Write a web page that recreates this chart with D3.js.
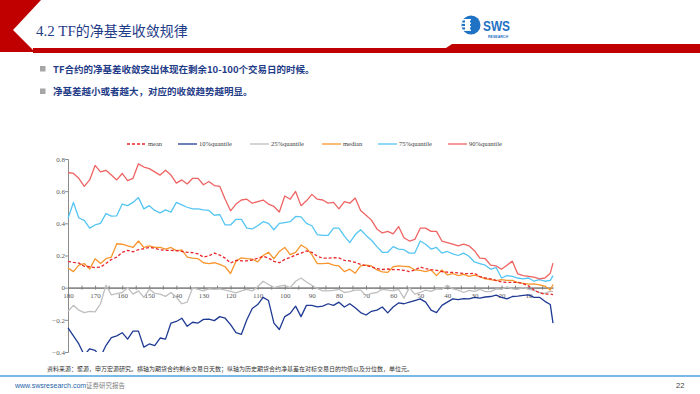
<!DOCTYPE html>
<html lang="zh">
<head>
<meta charset="utf-8">
<title>4.2 TF的净基差收敛规律</title>
<style>
  body { margin: 0; background: #fff; }
  svg text { font-family: "Liberation Serif", "Noto Sans CJK SC", serif; }
  svg text.cjk, svg tspan.cjk { font-family: "Noto Sans CJK SC", "Liberation Sans", sans-serif; }
  svg text.sans { font-family: "Liberation Sans", Arial, sans-serif; }
</style>
</head>
<body>
<script src="https://cdn.jsdelivr.net/npm/d3@7/dist/d3.min.js"></script>
<script>
// remaining trading days (x categories), every 2 days plus the last day
const days = d3.range(180, 0, -2).concat([1]);

const seriesNames = ["mean", "10%quantile", "25%quantile", "median", "75%quantile", "90%quantile"];

const q90 = [.716,.71,.68,.63,.67,.76,.72,.73,.70,.67,
  .71,.665,.68,.77,.75,.74,.72,.70,.73,.70,
  .65,.67,.645,.68,.68,.64,.66,.635,.63,.55,
  .478,.52,.545,.55,.525,.535,.545,.52,.505,.47,
  .57,.55,.598,.51,.54,.58,.55,.545,.526,.53,
  .49,.535,.525,.557,.48,.45,.42,.365,.34,.35,
  .335,.38,.31,.29,.30,.37,.37,.35,.35,.29,
  .28,.27,.26,.27,.26,.23,.184,.18,.14,.135,
  .115,.14,.165,.085,.075,.07,.065,.055,.06,.09,
  .153];

const q75 = [.43,.53,.433,.418,.37,.39,.40,.46,.445,.447,
  .52,.51,.53,.56,.49,.51,.48,.465,.484,.47,
  .53,.515,.50,.49,.49,.484,.48,.45,.455,.39,
  .39,.425,.425,.37,.365,.385,.41,.40,.36,.40,
  .405,.41,.443,.44,.40,.385,.33,.325,.325,.37,
  .37,.32,.28,.33,.36,.325,.295,.255,.22,.22,
  .255,.24,.236,.215,.215,.29,.27,.24,.25,.215,
  .225,.21,.20,.215,.195,.16,.15,.14,.115,.125,
  .06,.075,.07,.06,.055,.06,.04,.05,.04,.045,
  .075];

const median = [.122,.10,.14,.15,.115,.18,.15,.18,.19,.273,
  .27,.26,.25,.29,.25,.26,.25,.25,.24,.25,
  .23,.235,.19,.184,.18,.155,.15,.155,.145,.13,
  .088,.165,.185,.18,.178,.16,.20,.22,.18,.225,
  .25,.205,.22,.265,.245,.205,.15,.15,.152,.14,
  .135,.10,.115,.09,.135,.14,.135,.11,.098,.095,
  .13,.135,.133,.13,.11,.108,.10,.11,.075,.11,
  .08,.088,.075,.082,.07,.078,.068,.055,.05,.044,
  .05,.045,.045,.032,.027,.022,.024,.018,.01,-.015,
  .02];

const mean = [.164,.157,.153,.133,.13,.125,.128,.15,.175,.19,
  .22,.232,.223,.236,.242,.25,.245,.236,.232,.232,
  .23,.225,.22,.218,.21,.19,.198,.215,.203,.184,
  .153,.17,.167,.167,.172,.183,.195,.184,.164,.155,
  .176,.188,.203,.215,.228,.22,.195,.184,.184,.186,
  .185,.17,.166,.157,.145,.137,.13,.118,.113,.116,
  .112,.112,.108,.10,.11,.128,.118,.112,.108,.10,
  .096,.095,.092,.088,.087,.09,.068,.06,.055,.045,
  .036,.033,.033,.033,.025,.01,-.015,-.032,-.04,-.04,
  -.043];

const q25 = [-.147,-.11,-.14,-.155,-.147,-.15,-.10,.015,-.045,-.037,
  -.03,0,-.04,-.02,-.06,-.01,-.035,-.04,-.054,-.03,
  -.06,-.1,-.09,0,-.01,-.02,-.008,-.01,-.008,-.015,
  -.023,-.033,-.02,-.01,-.02,.005,.04,.02,0,.01,
  .015,0,.04,.06,.035,.015,-.005,-.02,-.02,-.017,
  -.01,-.03,-.025,-.015,-.015,-.05,-.035,-.03,-.01,-.015,
  -.02,-.01,-.065,0,-.04,-.03,-.015,-.023,-.008,-.01,
  .015,-.008,-.015,-.03,-.017,-.023,-.01,-.025,-.025,-.008,
  -.01,.005,-.008,-.01,0,-.01,-.017,-.03,-.035,-.023,
  -.023];

const q10 = [-.25,-.30,-.35,-.42,-.38,-.39,-.43,-.36,-.31,-.30,
  -.28,-.32,-.27,-.27,-.37,-.35,-.36,-.313,-.32,-.22,
  -.21,-.19,-.24,-.215,-.22,-.197,-.195,-.205,-.18,-.19,
  -.23,-.28,-.29,-.20,-.13,-.105,-.06,-.08,-.22,-.26,
  -.18,-.16,-.115,-.18,-.11,-.11,-.12,-.115,-.10,-.11,
  -.09,-.12,-.10,-.125,-.155,-.17,-.147,-.14,-.12,-.157,
  -.12,-.095,-.1,-.09,-.08,-.07,-.09,-.14,-.155,-.11,
  -.09,-.07,-.075,-.068,-.07,-.06,-.065,-.058,-.055,-.047,
  -.06,-.07,-.055,-.052,-.048,-.045,-.06,-.06,-.085,-.105,
  -.22];

const yTicks = [-0.4, -0.2, 0, 0.2, 0.4, 0.6, 0.8];
const xTicks = d3.range(180, 0, -5);

const W = 700, H = 394;
const svg = d3.select("body").append("svg").attr("width", W).attr("height", H);

// ---- slide header ----
svg.append("polygon")
  .attr("points", "0,0 41,0 13,30 35,52 0,52")
  .attr("fill", "#C00000");
svg.append("polygon")
  .attr("points", "33,48 446,48 452,44 700,44 700,53 33,53")
  .attr("fill", "#C00000");

const title = svg.append("text").attr("x", 36).attr("y", 36)
  .attr("fill", "#1F3C88").attr("font-size", 15);
title.append("tspan").text("4.2 TF");
title.append("tspan").attr("class", "cjk").attr("font-size", 14).text("的净基差收敛规律");

// logo
const logo = svg.append("g").attr("fill", "#1F72C4");
logo.append("circle").attr("cx", 471).attr("cy", 25).attr("r", 9.5);
[19, 22.5, 26, 29.5].forEach(yy => {
  logo.append("rect").attr("x", 462).attr("y", yy).attr("width", 9).attr("height", 1.4).attr("fill", "#fff");
});
logo.append("rect").attr("x", 465).attr("y", 20).attr("width", 5).attr("height", 10).attr("fill", "#fff");
logo.append("text").attr("class", "sans").attr("x", 483).attr("y", 31)
  .attr("font-weight", "bold").attr("font-size", 15)
  .attr("textLength", 27).attr("lengthAdjust", "spacingAndGlyphs").text("SWS");
logo.append("text").attr("class", "sans").attr("x", 488).attr("y", 38)
  .attr("font-weight", "bold").attr("font-size", 3.6)
  .attr("textLength", 20).attr("lengthAdjust", "spacingAndGlyphs").text("RESEARCH");

// bullets
const bullets = ["TF合约的净基差收敛突出体现在剩余10-100个交易日的时候。", "净基差越小或者越大，对应的收敛趋势越明显。"];
bullets.forEach((t, i) => {
  const yy = 69 + i * 22.5;
  svg.append("rect").attr("x", 40).attr("y", yy - 3).attr("width", 5.5).attr("height", 5.5).attr("fill", "#A6A6A6");
  svg.append("text").attr("class", "cjk").attr("x", 53).attr("y", yy + 3.5)
    .attr("font-size", 9.5).attr("font-weight", "bold").attr("fill", "#1F3C88").text(t);
});

// ---- chart ----
const x = d3.scaleLinear().domain([180, 1]).range([68, 553]);
const y = d3.scaleLinear().domain([-0.4, 0.8]).range([352, 159]);

svg.append("defs").append("clipPath").attr("id", "plot")
  .append("rect").attr("x", 60).attr("y", 159).attr("width", 500).attr("height", 193);

// y axis
const yAxis = svg.append("g").attr("transform", "translate(68,0)")
  .call(d3.axisLeft(y).tickValues(yTicks).tickSize(3).tickFormat(d => d === 0 ? "0" : d3.format(".1f")(d)));
yAxis.select(".domain").attr("stroke", "#8C8C8C");
yAxis.selectAll(".tick line").attr("stroke", "#8C8C8C");
yAxis.selectAll(".tick text").attr("font-size", 7).attr("fill", "#595959")
  .style("font-family", "Liberation Serif, serif").attr("x", -3);

// x axis at zero
const xAxis = svg.append("g").attr("transform", `translate(0,${y(0)})`)
  .call(d3.axisBottom(x).tickValues(xTicks).tickSizeOuter(0)
    .tickFormat(d => d % 10 === 0 ? d : ""));
xAxis.select(".domain").attr("stroke", "#8C8C8C").attr("stroke-width", 1.6);
xAxis.selectAll(".tick line").attr("stroke", "#7F7F7F").attr("y1", -2).attr("y2", 2);
xAxis.selectAll(".tick text").attr("font-size", 7).attr("fill", "#595959")
  .style("font-family", "Liberation Serif, serif").attr("y", 5);

const series = [
  { name: "25%quantile", values: q25, color: "#BFBFBF", dash: null },
  { name: "10%quantile", values: q10, color: "#1F3A93", dash: null },
  { name: "median", values: median, color: "#F7962D", dash: null },
  { name: "75%quantile", values: q75, color: "#55C5F2", dash: null },
  { name: "90%quantile", values: q90, color: "#EF6363", dash: null },
  { name: "mean", values: mean, color: "#E8262B", dash: "3,2" }
];

const line = d3.line().x((d, i) => x(days[i])).y(d => y(d));
const plot = svg.append("g").attr("clip-path", "url(#plot)");
series.forEach(s => {
  plot.append("path").datum(s.values)
    .attr("d", line)
    .attr("fill", "none")
    .attr("stroke", s.color)
    .attr("stroke-width", 1.3)
    .attr("stroke-linejoin", "round")
    .attr("stroke-dasharray", s.dash);
});

// legend
const legendX = [127, 178, 250, 322, 378, 448];
const legend = svg.append("g");
seriesNames.forEach((n, i) => {
  const s = series.find(d => d.name === n);
  const g = legend.append("g").attr("transform", `translate(${legendX[i]},144)`);
  g.append("line").attr("x1", 0).attr("x2", 19).attr("stroke", s.color)
    .attr("stroke-width", 1.3).attr("stroke-dasharray", s.dash);
  g.append("text").attr("x", 21).attr("y", 2.3).attr("font-size", 6.5).attr("fill", "#404040").text(n);
});

// source note
svg.append("text").attr("class", "cjk").attr("x", 47).attr("y", 371)
  .attr("font-size", 6).attr("fill", "#333")
  .text("资料来源：聚源，申万宏源研究。横轴为期货合约剩余交易日天数；纵轴为历史期货合约净基差在对标交易日的均值以及分位数，单位元。");

// footer
svg.append("line").attr("x1", 0).attr("x2", W).attr("y1", 376).attr("y2", 376)
  .attr("stroke", "#4BA3DF").attr("stroke-width", 1.5);
svg.append("text").attr("class", "sans").attr("x", 15).attr("y", 388).attr("font-size", 7)
  .attr("fill", "#1F5FA8").text("www.swsresearch.com");
svg.append("text").attr("class", "cjk").attr("x", 86).attr("y", 388).attr("font-size", 6.5)
  .attr("fill", "#7F7F7F").text("证券研究报告");
svg.append("text").attr("class", "sans").attr("x", 676).attr("y", 388).attr("font-size", 7.5)
  .attr("fill", "#404040").text("22");
</script>
</body>
</html>
